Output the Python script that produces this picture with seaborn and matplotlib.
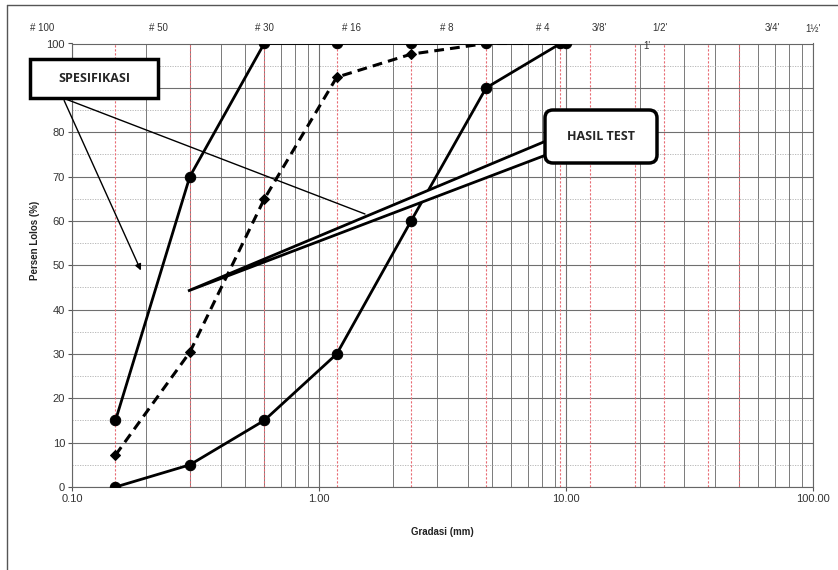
import numpy as np
import pandas as pd
import seaborn as sns
import matplotlib.pyplot as plt
from matplotlib.patches import Rectangle, FancyBboxPatch, Polygon
from matplotlib.ticker import FixedLocator, FuncFormatter, NullFormatter

# grading data (sieve opening in mm vs percent passing)
sieve_mm = [0.15, 0.3, 0.6, 1.18, 2.36, 4.75, 9.5]
upper_mm = [0.15, 0.3, 0.6, 1.18, 2.36, 4.75, 10.0]
spec_upper = [15, 70, 100, 100, 100, 100, 100]
spec_lower = [0, 5, 15, 30, 60, 90, 100]
test_result = [7.2, 30.4, 64.9, 92.4, 97.6, 100, 100]

red_lines_mm = [0.15, 0.3, 0.6, 1.18, 2.36, 4.75, 9.5, 12.5, 19, 25, 37.5, 50]
top_labels = ['# 100', '# 50', '# 30', '# 16', '# 8', '# 4', "3/8'", "1/2'", "1'", "3/4'", "1½'"]
x_ticks = [0.1, 1, 10, 100]
y_ticks = list(range(0, 101, 10))

sns.set_style('white')
plt.rcParams['font.family'] = ['Liberation Sans', 'DejaVu Sans']

W, H = 838, 570
fig = plt.figure(figsize=(W / 100, H / 100), dpi=100)
ax = fig.add_axes([72 / W, 1 - 487 / H, (813 - 72) / W, (487 - 43.5) / H])

ax.set_xscale('log')
ax.set_xlim(0.1, 100)
ax.set_ylim(0, 100)

# grid
ax.xaxis.set_major_locator(FixedLocator(x_ticks))
ax.xaxis.set_minor_locator(FixedLocator([m * d for d in (0.1, 1, 10) for m in range(2, 10)]))
ax.xaxis.set_major_formatter(FuncFormatter(lambda v, p: f'{v:.2f}'))
ax.xaxis.set_minor_formatter(NullFormatter())
ax.yaxis.set_major_locator(FixedLocator(y_ticks))
ax.yaxis.set_minor_locator(FixedLocator(list(range(5, 100, 10))))
ax.grid(which='major', axis='both', color='#6f6f6f', lw=0.8)
ax.grid(which='minor', axis='x', color='#7a7a7a', lw=0.7)
ax.grid(which='minor', axis='y', color='#b0b0b0', lw=0.6, ls=(0, (1.5, 1.5)))
ax.set_axisbelow(True)
for x in red_lines_mm:
    ax.axvline(x, color='#e86a72', lw=0.8, ls=(0, (2, 1.6)), zorder=1.5)

for s in ax.spines.values():
    s.set_color('#666666')
    s.set_linewidth(0.8)
ax.tick_params(which='major', length=3, width=0.8, color='#555555', labelsize=8,
               labelcolor='#333333', pad=2, left=True, bottom=True)
ax.tick_params(which='minor', length=0)

sns.lineplot(x=upper_mm, y=spec_upper, ax=ax, color='black', lw=2.0, marker='o',
             markersize=7.5, markeredgecolor='black', zorder=4)
sns.lineplot(x=sieve_mm, y=spec_lower, ax=ax, color='black', lw=2.0, marker='o',
             markersize=7.5, markeredgecolor='black', zorder=4)
sns.lineplot(x=sieve_mm, y=test_result, ax=ax, color='black', lw=2.2, ls=(0, (3.2, 2)),
             marker='D', markersize=5, markeredgecolor='black', zorder=5)
ax.set_xlabel('')
ax.set_ylabel('')

# overlay in pixel coordinates for labels and callouts
ov = fig.add_axes([0, 0, 1, 1], zorder=10)
ov.set_xlim(0, W)
ov.set_ylim(H, 0)
ov.axis('off')
ov.patch.set_alpha(0)

ov.plot([7, 7], [5, H], color='#555555', lw=1)
ov.plot([7, W], [5, 5], color='#555555', lw=1)

top_x = [42, 158, 264, 351, 447, 543, 599, 660, 647, 772, 813]
top_y = [28, 28, 28, 28, 28, 28, 28, 28, 46, 28, 29]
for lab, x, y in zip(top_labels, top_x, top_y):
    ov.text(x, y, lab, ha='center', va='center', fontsize=7, color='#333333')

ov.text(442, 532, 'Gradasi (mm)', ha='center', va='center', fontsize=7, fontweight='bold', color='#222222')
ov.text(35, 240, 'Persen Lolos (%)', ha='center', va='center', rotation=90, fontsize=7,
        fontweight='bold', color='#222222')

# SPESIFIKASI pointers
ov.plot([63, 365], [98, 214], color='black', lw=1.0, zorder=1)
ov.annotate('', xy=(142, 273), xytext=(63, 98),
            arrowprops=dict(arrowstyle='-|>', color='black', lw=1.0, mutation_scale=9), zorder=1)

# HASIL TEST callout
ov.add_patch(Polygon([(188, 291), (546, 141), (546, 155)], closed=True, fc='white', ec='black', lw=2, zorder=2))
ov.add_patch(FancyBboxPatch((545, 110), 112, 53, boxstyle='round,pad=0,rounding_size=8',
                            fc='white', ec='black', lw=2.5, zorder=3))
ov.text(601, 136, 'HASIL TEST', ha='center', va='center', fontsize=9, fontweight='bold',
        family=['Open Sans', 'DejaVu Sans'], zorder=4)

ov.add_patch(Rectangle((30, 59), 128, 39, fc='white', ec='black', lw=2.5, zorder=3))
ov.text(94, 78, 'SPESIFIKASI', ha='center', va='center', fontsize=9, fontweight='bold',
        family=['Open Sans', 'DejaVu Sans'], zorder=4)

fig.savefig('out.png', dpi=100)
